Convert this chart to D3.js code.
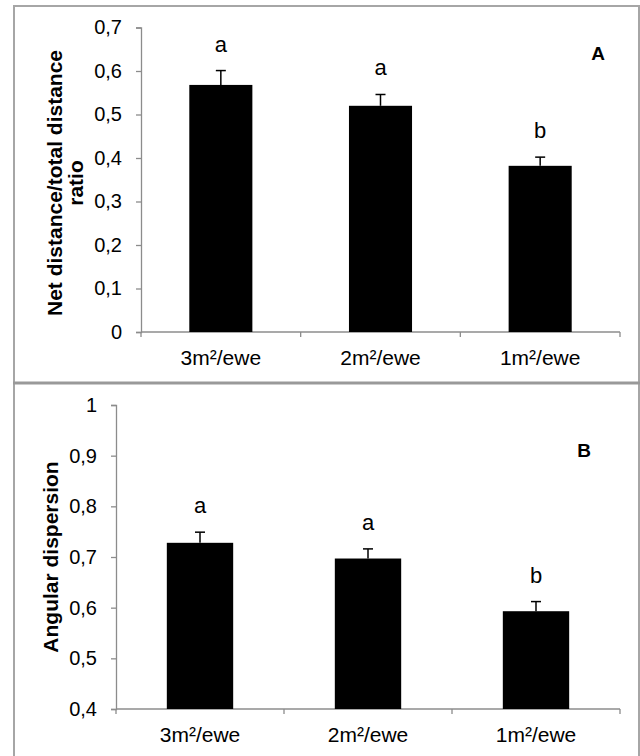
<!DOCTYPE html>
<html>
<head>
<meta charset="utf-8">
<script src="https://cdn.jsdelivr.net/npm/d3@7"></script>
<style>
  html, body { margin: 0; padding: 0; background: #fff; }
  svg { display: block; font-family: "Liberation Sans", Arial, sans-serif; }
</style>
</head>
<body>
<svg id="chart" width="640" height="756"></svg>
<script>
// ---- data ----
const categories = ["3m²/ewe", "2m²/ewe", "1m²/ewe"];
const ratioValues = [0.568, 0.520, 0.382];
const ratioErrors = [0.033, 0.026, 0.020];
const ratioLetters = ["a", "a", "b"];
const ratioTicks = [0, 0.1, 0.2, 0.3, 0.4, 0.5, 0.6, 0.7];
const dispValues = [0.728, 0.697, 0.593];
const dispErrors = [0.021, 0.019, 0.019];
const dispLetters = ["a", "a", "b"];
const dispTicks = [0.4, 0.5, 0.6, 0.7, 0.8, 0.9, 1];

const svg = d3.select("#chart");
const fmt = d3.formatLocale({decimal: ",", thousands: ".", grouping: [3], currency: ["", ""]}).format("~g");
const gray = "#8c8c8c";
const FONT = "Liberation Sans, Arial, sans-serif";

// frame
svg.append("rect").attr("x", 14).attr("y", 6).attr("width", 625).attr("height", 760)
  .attr("fill", "none").attr("stroke", "#a6a6a6").attr("stroke-width", 2);
svg.append("line").attr("x1", 13).attr("x2", 640).attr("y1", 383).attr("y2", 383)
  .attr("stroke", "#999").attr("stroke-width", 3);

function panel(opt) {
  const g = svg.append("g").attr("font-family", FONT);
  const x = d3.scaleBand().domain(categories).range([opt.x0, opt.x1]).paddingInner(0.605).paddingOuter(0.3025);
  const y = d3.scaleLinear().domain(opt.domain).range([opt.yBottom, opt.yTop]);

  // y axis
  const ya = g.append("g").attr("transform", `translate(${opt.x0},0)`)
    .call(d3.axisLeft(y).tickValues(opt.ticks).tickSize(5).tickPadding(14).tickFormat(fmt));
  ya.attr("font-family", FONT).attr("font-size", 20);
  ya.select(".domain").attr("stroke", gray).attr("stroke-width", 1.3);
  ya.selectAll(".tick line").attr("stroke", gray).attr("stroke-width", 1.3);
  ya.selectAll(".tick text").attr("fill", "#000");

  // x axis line and boundary ticks
  const step = x.step();
  const bounds = d3.range(categories.length + 1).map(i => opt.x0 + i * step);
  g.append("line").attr("x1", opt.x0).attr("x2", opt.x1)
    .attr("y1", opt.yBottom).attr("y2", opt.yBottom)
    .attr("stroke", gray).attr("stroke-width", 1.3);
  g.selectAll(".bt").data(bounds).join("line")
    .attr("x1", d => d).attr("x2", d => d)
    .attr("y1", opt.yBottom).attr("y2", opt.yBottom + 5)
    .attr("stroke", gray).attr("stroke-width", 1.3);
  g.selectAll(".xl").data(categories).join("text")
    .attr("x", d => x(d) + x.bandwidth() / 2)
    .attr("y", opt.yBottom + 33)
    .attr("text-anchor", "middle").attr("font-size", 21).text(d => d);

  const data = categories.map((c, i) => ({c, v: opt.values[i], e: opt.errors[i], l: opt.letters[i]}));

  // error bars (upper only)
  g.selectAll(".eb").data(data).join("line")
    .attr("x1", d => x(d.c) + x.bandwidth() / 2).attr("x2", d => x(d.c) + x.bandwidth() / 2)
    .attr("y1", d => y(d.v)).attr("y2", d => y(d.v + d.e))
    .attr("stroke", "#000").attr("stroke-width", 1.5);
  g.selectAll(".ec").data(data).join("line")
    .attr("x1", d => x(d.c) + x.bandwidth() / 2 - 5).attr("x2", d => x(d.c) + x.bandwidth() / 2 + 5)
    .attr("y1", d => y(d.v + d.e)).attr("y2", d => y(d.v + d.e))
    .attr("stroke", "#000").attr("stroke-width", 1.5);

  // bars
  g.selectAll(".bar").data(data).join("rect")
    .attr("x", d => x(d.c)).attr("width", x.bandwidth())
    .attr("y", d => y(d.v)).attr("height", d => y(opt.domain[0]) - y(d.v))
    .attr("fill", "#000");

  // letters
  g.selectAll(".let").data(data).join("text")
    .attr("x", d => x(d.c) + x.bandwidth() / 2)
    .attr("y", d => y(d.v + d.e) - 19)
    .attr("text-anchor", "middle").attr("font-size", 22).text(d => d.l);

  // panel label
  g.append("text").attr("x", opt.labelX).attr("y", opt.labelY)
    .attr("text-anchor", "middle").attr("font-size", 19).attr("font-weight", "bold").text(opt.label);

  // y title
  const t = g.append("text").attr("transform", `translate(0,${opt.titleY}) rotate(-90)`)
    .attr("text-anchor", "middle").attr("font-size", 21).attr("font-weight", "bold");
  opt.title.forEach((line, i) => {
    t.append("tspan").attr("x", 0).attr("y", opt.titleX[i]).text(line);
  });
}

panel({
  x0: 141, x1: 620, yBottom: 332, yTop: 27.5, domain: [0, 0.7], ticks: ratioTicks,
  values: ratioValues, errors: ratioErrors, letters: ratioLetters,
  label: "A", labelX: 598, labelY: 60,
  title: ["Net distance/total distance", "ratio"], titleX: [62, 83], titleY: 183
});
panel({
  x0: 116, x1: 620, yBottom: 709, yTop: 405, domain: [0.4, 1], ticks: dispTicks,
  values: dispValues, errors: dispErrors, letters: dispLetters,
  label: "B", labelX: 584, labelY: 457,
  title: ["Angular dispersion"], titleX: [58], titleY: 557
});
</script>
</body>
</html>
